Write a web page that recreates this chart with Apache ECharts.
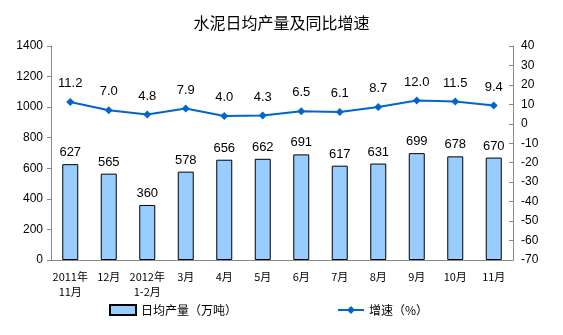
<!DOCTYPE html>
<html><head><meta charset="utf-8">
<script src="https://cdn.jsdelivr.net/npm/echarts@6/dist/echarts.min.js"></script>
<style>html,body{margin:0;padding:0;background:#fff}#c{width:563px;height:335px}</style>
</head><body><div id="c"></div>
<script>
const categories = ['2011年\n11月','12月','2012年\n1-2月','3月','4月','5月','6月','7月','8月','9月','10月','11月'];
const output = [627,565,360,578,656,662,691,617,631,699,678,670];
const growth = [11.2,7.0,4.8,7.9,4.0,4.3,6.5,6.1,8.7,12.0,11.5,9.4];
const font = '"Liberation Sans", "Noto Sans CJK SC", sans-serif';
const cjk = '"Noto Sans CJK SC", sans-serif';
const chart = echarts.init(document.getElementById('c'));
chart.setOption({
  animation:false,
  textStyle:{fontFamily:font},
  title:{text:'水泥日均产量及同比增速', left:'center', top:10,
    textStyle:{fontSize:16, fontWeight:'normal', color:'#000', fontFamily:cjk}},
  grid:{left:51, right:50, top:46, bottom:75},
  legend:{bottom:14, left:104, itemGap:100, itemWidth:26, itemHeight:10,
    textStyle:{fontSize:12, color:'#000', fontFamily:cjk},
    data:[{name:'日均产量（万吨）', icon:'rect'},{name:'增速（%）'}]},
  xAxis:{type:'category', data:categories,
    axisLine:{lineStyle:{color:'#888'}},
    axisTick:{inside:true, length:4, lineStyle:{color:'#888'}},
    axisLabel:{interval:0, color:'#000', fontSize:11, margin:9, lineHeight:15, fontFamily:cjk}},
  yAxis:[
    {type:'value', min:0, max:1400, interval:200, splitLine:{show:false},
     axisLine:{show:true, lineStyle:{color:'#888'}}, axisTick:{show:true, length:4, lineStyle:{color:'#888'}},
     axisLabel:{color:'#000', fontSize:12, margin:8, formatter:v=>String(v)}},
    {type:'value', min:-70, max:40, interval:10, splitLine:{show:false},
     axisLine:{show:true, lineStyle:{color:'#888'}}, axisTick:{show:true, inside:true, length:4, lineStyle:{color:'#888'}},
     axisLabel:{color:'#000', fontSize:12, margin:8, formatter:v=>String(v)}}
  ],
  series:[
    {name:'日均产量（万吨）', type:'bar', data:output, barWidth:16,
     itemStyle:{color:'#99CCFF', borderColor:'#000', borderWidth:1},
     label:{show:true, position:'top', color:'#000', fontSize:13, distance:5}},
    {name:'增速（%）', type:'line', yAxisIndex:1, data:growth,
     symbol:'diamond', symbolSize:8,
     lineStyle:{color:'#0066CC', width:2}, itemStyle:{color:'#0066CC'},
     label:{show:true, position:'top', color:'#000', fontSize:13, distance:8,
       formatter:p=>p.value.toFixed(1)}}
  ]
});
</script></body></html>
